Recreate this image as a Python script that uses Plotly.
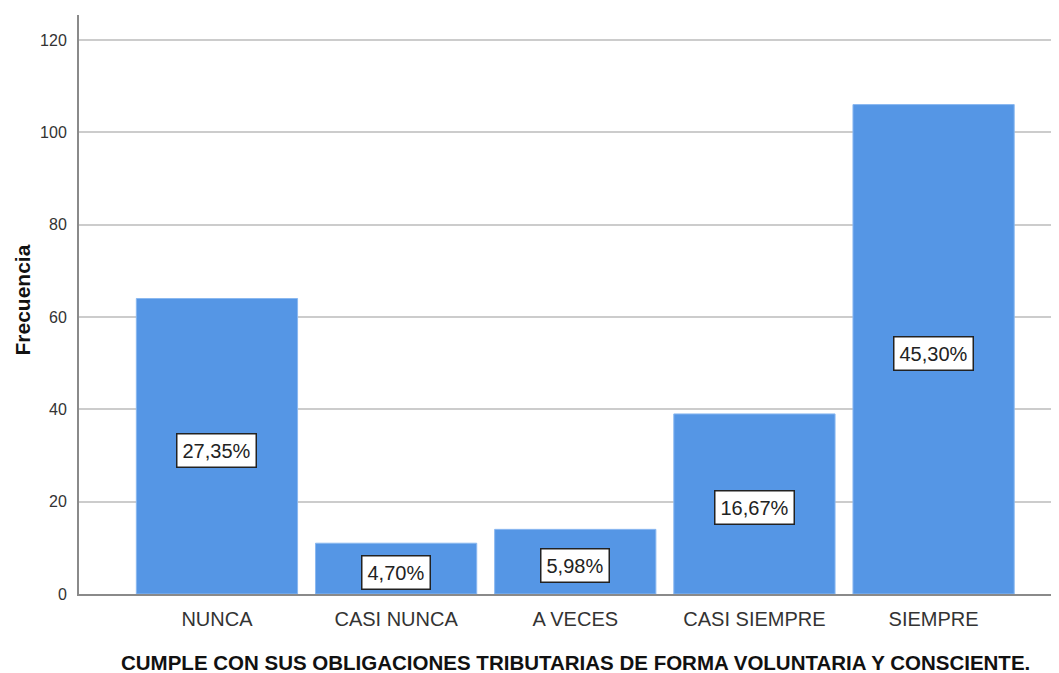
import plotly.graph_objects as go

categories = ["NUNCA", "CASI NUNCA", "A VECES", "CASI SIEMPRE", "SIEMPRE"]
frecuencia = [64, 11, 14, 39, 106]
porcentajes = ["27,35%", "4,70%", "5,98%", "16,67%", "45,30%"]
y_ticks = [0, 20, 40, 60, 80, 100, 120]

FONT = "Liberation Sans, Arial, sans-serif"
BAR_COLOR = "#5596e5"

fig = go.Figure()
fig.add_trace(go.Bar(
    x=categories,
    y=frecuencia,
    marker=dict(color=BAR_COLOR, line=dict(color="#8ab8f0", width=1)),
    width=0.9,
    hoverinfo="x+y",
))

for c, v, p in zip(categories, frecuencia, porcentajes):
    fig.add_annotation(
        x=c, y=v / 2, text=p, showarrow=False,
        font=dict(family=FONT, size=20, color="#222222"),
        bgcolor="white", bordercolor="#222222", borderwidth=1.5, borderpad=5,
        yshift=-4,
    )

# axis titles as annotations for precise placement
fig.add_annotation(
    xref="paper", yref="paper", x=0.507, y=0, yanchor="middle", xanchor="center",
    yshift=-68, showarrow=False,
    text="<b>CUMPLE CON SUS OBLIGACIONES TRIBUTARIAS DE FORMA VOLUNTARIA Y CONSCIENTE.</b>",
    font=dict(family=FONT, size=20.5, color="#111111"),
)
fig.add_annotation(
    xref="paper", yref="paper", x=0, y=0.5, xanchor="center", yanchor="middle",
    xshift=-57, yshift=4, textangle=-90, showarrow=False,
    text="<b>Frecuencia</b>",
    font=dict(family=FONT, size=21, color="#111111"),
)

fig.update_layout(
    width=1051, height=665,
    margin=dict(l=71, r=0, t=7, b=79),
    paper_bgcolor="white", plot_bgcolor="white",
    showlegend=False,
    font=dict(family=FONT, color="#222222"),
    xaxis=dict(
        range=[-0.77, 4.70],
        showgrid=False,
        showline=True, linecolor="#8a8a8a", linewidth=2,
        ticks="", tickfont=dict(size=20, color="#333333"),
        ticklabelstandoff=6,
        automargin=False,
    ),
    yaxis=dict(
        range=[0, 125.4],
        tickvals=y_ticks,
        showgrid=True, gridcolor="#cccccc", gridwidth=2,
        showline=True, linecolor="#8a8a8a", linewidth=2,
        zeroline=False,
        ticks="", tickfont=dict(size=16, color="#333333"),
        ticklabelstandoff=7,
        automargin=False,
    ),
)

fig.write_html("out.html")
